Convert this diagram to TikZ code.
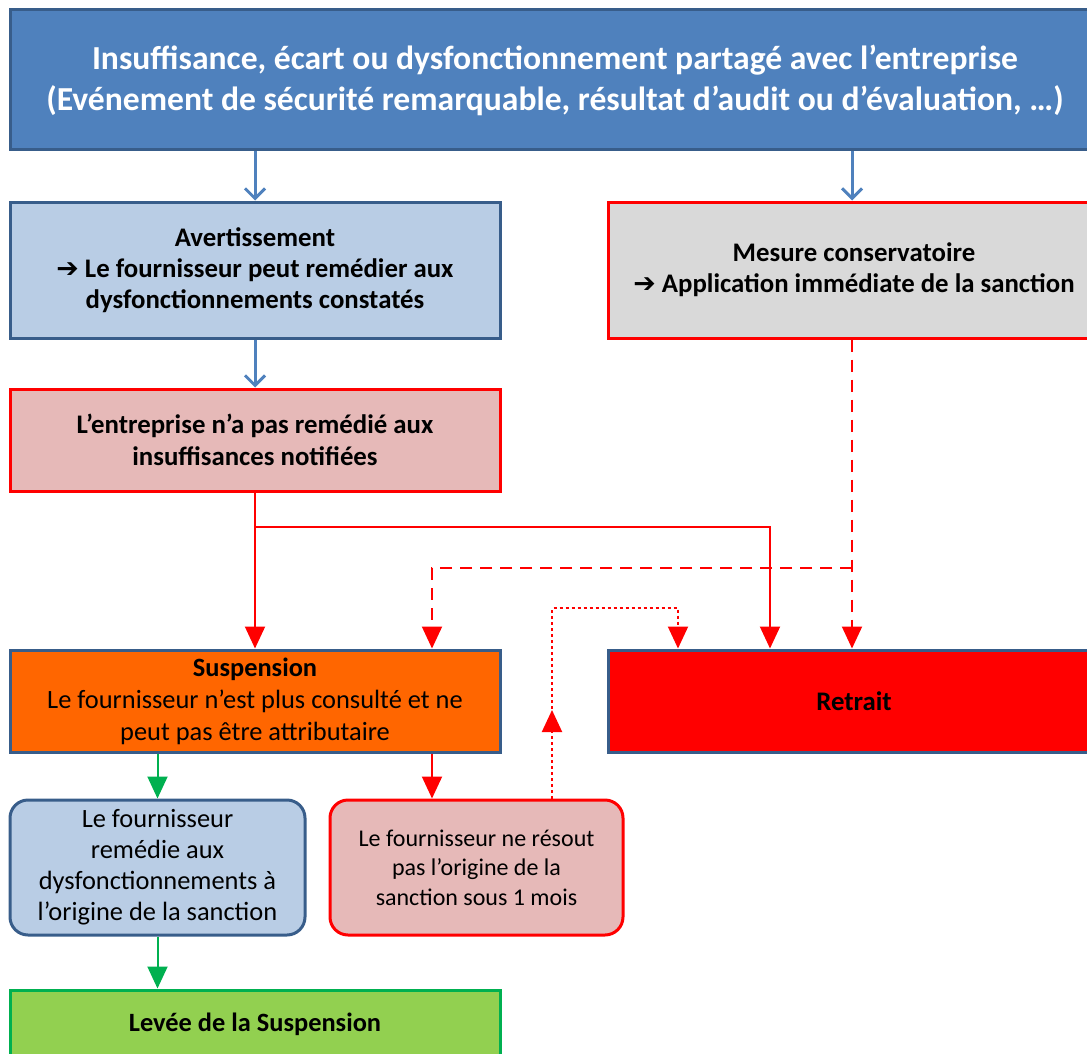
\documentclass[tikz,border=0pt]{standalone}
\usepackage{fontspec}
\setmainfont{Carlito}
\newfontfamily\arrowfont{DejaVu Sans}
\usetikzlibrary{arrows.meta,positioning}
\definecolor{hdrblue}{HTML}{4F81BD}
\definecolor{hdrborder}{HTML}{385D8A}
\definecolor{paleblue}{HTML}{B9CDE5}
\definecolor{palegrey}{HTML}{D9D9D9}
\definecolor{palepink}{HTML}{E6B9B8}
\definecolor{susporange}{HTML}{FF6600}
\definecolor{levgreen}{HTML}{92D050}
\definecolor{darkgreen}{HTML}{00B050}
\newcommand{\thickness}{1.5pt}
\newcommand{\fleche}{{\arrowfont\bfseries ➔}}
\tikzset{
  box/.style={draw=hdrborder, line width=\thickness, align=center, inner sep=0pt},
  redbox/.style={box, draw=red},
  wide/.style={minimum width=245pt},
  bluearrow/.style={hdrblue, line width=1.5pt, -{Straight Barb[length=5pt,width=10pt,line width=1.5pt]}},
  redarrow/.style={red, line width=1pt, -{Triangle[length=11pt,width=10pt]}},
  greenarrow/.style={darkgreen, line width=1pt, -{Triangle[length=11pt,width=10pt]}}
}

\begin{document}
\begin{tikzpicture}[x=0.5pt, y=-0.5pt]
\clip (0,0) rectangle (1087,1054);
% boxes
\node[box, fill=hdrblue, text=white, minimum width=545pt, minimum height=70pt,
  font=\bfseries\fontsize{16.8}{20.5}\selectfont] (alerte) at (555,80)
  {Insuffisance, écart ou dysfonctionnement partagé avec l’entreprise\\(Evénement de sécurité remarquable, résultat d’audit ou d’évaluation, …)};
\node[box, wide, fill=paleblue, minimum height=68pt,
  font=\bfseries\fontsize{13.4}{15.5}\selectfont] (avert) at (255,270)
  {Avertissement\\\fleche{} Le fournisseur peut remédier aux\\dysfonctionnements constatés};
\node[redbox, minimum width=246pt, fill=palegrey, minimum height=68pt,
  font=\bfseries\fontsize{13.4}{15.5}\selectfont] (mesure) at (854,270)
  {Mesure conservatoire\\\fleche{} Application immédiate de la sanction};
\node[redbox, wide, fill=palepink, minimum height=51pt,
  font=\bfseries\fontsize{13.4}{16}\selectfont] (entreprise) at (255,440)
  {L’entreprise n’a pas remédié aux\\insuffisances notifiées};
\node[box, wide, fill=susporange, minimum height=51pt,
  font=\fontsize{13.2}{16}\selectfont] (susp) at (255,701)
  {\textbf{Suspension}\\Le fournisseur n’est plus consulté et ne\\peut pas être attributaire};
\node[box, minimum width=246pt, fill=red, minimum height=51pt,
  font=\bfseries\fontsize{13.4}{15.5}\selectfont] (retrait) at (854,701) {Retrait};
\node[box, fill=paleblue, rounded corners=9pt, minimum width=147.5pt, minimum height=67.5pt,
  font=\fontsize{13.2}{15.5}\selectfont] (remedie) at (157.5,867.5)
  {Le fournisseur\\remédie aux\\dysfonctionnements à\\l’origine de la sanction};
\node[redbox, fill=palepink, rounded corners=9pt, minimum width=146.5pt, minimum height=67.5pt,
  font=\fontsize{12}{14.7}\selectfont] (nonresolu) at (476.5,867.5)
  {Le fournisseur ne résout\\pas l’origine de la\\sanction sous 1 mois};
\node[box, wide, draw=darkgreen, fill=levgreen, minimum height=34pt,
  font=\bfseries\fontsize{13.2}{15.5}\selectfont] (levee) at (255,1024) {Levée de la Suspension};
% junctions
\coordinate (jA) at (770,527);
\coordinate (jB) at (432,568);
\coordinate (jC) at (552,608);
\coordinate (jD) at (678,608);
% connectors
\draw[bluearrow] (alerte.south -| avert.north) -- (avert.north);
\draw[bluearrow] (alerte.south -| 852,0) -- (mesure.north -| 852,0);
\draw[bluearrow] (avert.south) -- (entreprise.north);
\draw[redarrow] (entreprise.south) -- (susp.north);
\draw[redarrow] (entreprise.south) |- (jA) -- (jA |- retrait.north);
\draw[redarrow, dashed, dash pattern=on 6pt off 4pt] (mesure.south -| 852,0) -- (retrait.north -| 852,0);
\draw[redarrow, dashed, dash pattern=on 6pt off 4pt] (jB -| 852,0) -- (jB) -- (jB |- susp.north);
\draw[redarrow, dash pattern=on 1.5pt off 1.5pt] (jC |- nonresolu.north) -- (jC) -- (jD) -- (jD |- retrait.north);
\draw[redarrow, dash pattern=on 1.5pt off 1.5pt] (jC |- nonresolu.north) -- (552,710);
\draw[greenarrow] (susp.south -| remedie.north) -- (remedie.north);
\draw[redarrow] (jB |- susp.south) -- (jB |- nonresolu.north);
\draw[greenarrow] (remedie.south) -- (remedie.south |- levee.north);
\end{tikzpicture}
\end{document}
